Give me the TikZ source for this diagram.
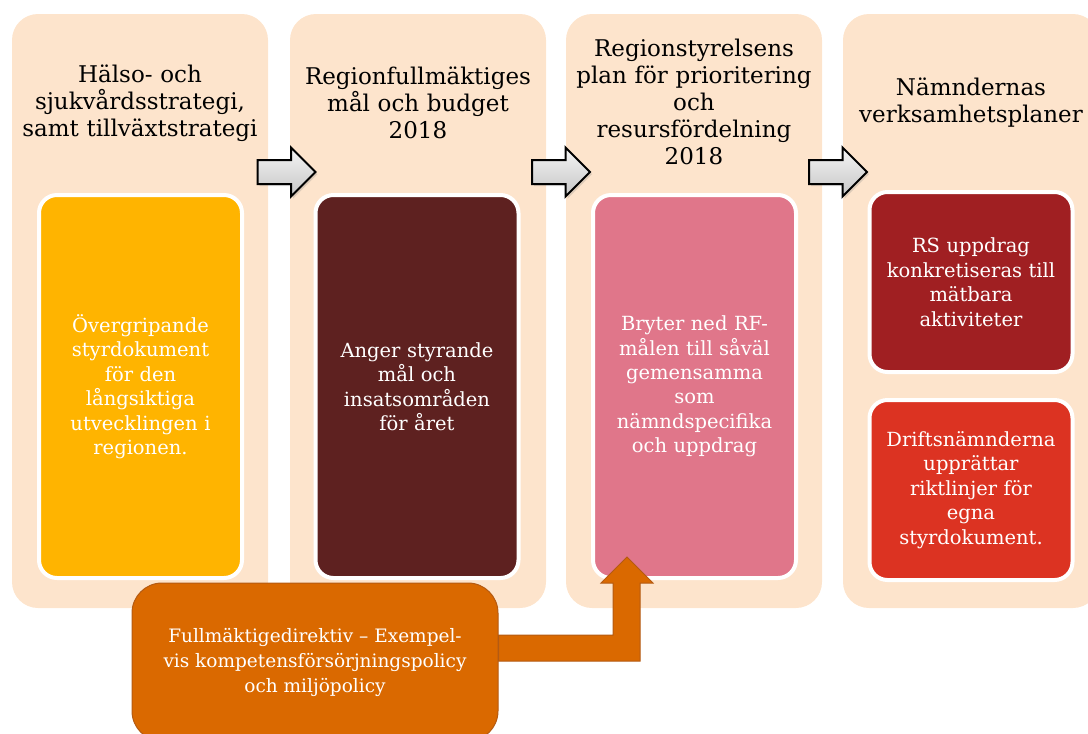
\documentclass[tikz,border=0pt]{standalone}
\usepackage{fontspec}
\setmainfont{DejaVu Serif}
\usetikzlibrary{shapes.arrows, shadows, calc}
\newlength\px
\setlength\px{0.025cm}
\definecolor{peach}{HTML}{FDE4CC}
\definecolor{gul}{HTML}{FFB400}
\definecolor{brun}{HTML}{5E2120}
\definecolor{rosa}{HTML}{E0768A}
\definecolor{morkrod}{HTML}{A01F22}
\definecolor{rod}{HTML}{DC3322}
\definecolor{orange}{HTML}{DA6900}
\definecolor{orangekant}{HTML}{B45A12}
\tikzstyle{column} = [rectangle, rounded corners=26\px, minimum width=256\px, minimum height=594\px, fill=peach]
\tikzstyle{title} = [text width=260\px, align=center, font=\fontsize{23\px}{27\px}\selectfont]
\tikzstyle{inner} = [rectangle, rounded corners=18\px, draw=white, line width=4\px, minimum width=203\px, text width=200\px, inner sep=0pt, align=center, text=white, font=\fontsize{19.5\px}{24.5\px}\selectfont]
\tikzstyle{pil} = [single arrow, single arrow head extend=12.5\px, single arrow tip angle=90, minimum height=58\px, minimum width=0pt, inner xsep=0pt, inner ysep=11\px, draw=black, line width=2\px, top color=gray!8, bottom color=gray!45, drop shadow={opacity=0.25, shadow xshift=2\px, shadow yshift=-2\px}]
\tikzstyle{direktiv} = [rectangle, rounded corners=30\px, minimum width=366\px, minimum height=158\px, fill=orange, draw=orangekant, line width=1\px, align=center, text=white, font=\fontsize{18.5\px}{25\px}\selectfont]
\tikzstyle{fdpil} = [fill=orange, draw=orangekant, line width=1\px, line join=miter]

\begin{document}
\begin{tikzpicture}[x=0.025cm, y=-0.025cm]
	\useasboundingbox (0,0) rectangle (1088,733);

	\node (col1) [column] at (140,311) {};
	\node (col2) [column] at (418,311) {};
	\node (col3) [column] at (694,311) {};
	\node (col4) [column] at (971,311) {};

	\node (t1) [title] at (140,103) {Hälso- och\\sjukvårdsstrategi,\\samt tillväxtstrategi};
	\node (t2) [title] at (418,103) {Regionfullmäktiges\\mål och budget\\2018};
	\node (t3) [title] at (694,102) {Regionstyrelsens\\plan för prioritering\\och\\resursfördelning\\2018};
	\node (t4) [title] at (971,103) {Nämndernas\\verksamhetsplaner};

	\node (strat) [inner, fill=gul, minimum height=383\px] at (140.5,386.5) {Övergripande\\styrdokument\\för den\\långsiktiga\\utvecklingen i\\regionen.};
	\node (budget) [inner, fill=brun, minimum height=383\px] at (417,386.5) {Anger styrande\\mål och\\insatsområden\\för året};
	\node (prio) [inner, fill=rosa, minimum height=383\px] at (694.5,386.5) {Bryter ned RF-\\målen till såväl\\gemensamma\\som\\nämndspecifika\\och uppdrag};
	\node (rsupp) [inner, fill=morkrod, minimum height=180\px] at (971,282) {RS uppdrag\\konkretiseras till\\mätbara\\aktiviteter};
	\node (drift) [inner, fill=rod, minimum height=180\px] at (971,490) {Driftsnämnderna\\upprättar\\riktlinjer för\\egna\\styrdokument.};

	\node (pil1) [pil] at (280.5,172) {};
	\node (pil2) [pil] at (555,172) {};
	\node (pil3) [pil] at (832,172) {};

	\node (fdir) [direktiv] at (315,662) {Fullmäktigedirektiv – Exempel-\\vis kompetensförsörjningspolicy\\och miljöpolicy};

	% bruten pil fran direktiven upp till regionstyrelsens plan
	\coordinate (knut) at (626,648);
	\coordinate (spets) at (627,557);
	\draw [fdpil] ($(fdir.east |- knut)+(0,-13)$) -- ($(knut)+(-13,-13)$) -- ($(spets)+(-14,26)$) -- ($(spets)+(-26,26)$) -- (spets) -- ($(spets)+(26,26)$) -- ($(spets)+(13,26)$) -- ($(knut)+(14,13)$) -- ($(fdir.east |- knut)+(0,13)$) -- cycle;

\end{tikzpicture}
\end{document}
